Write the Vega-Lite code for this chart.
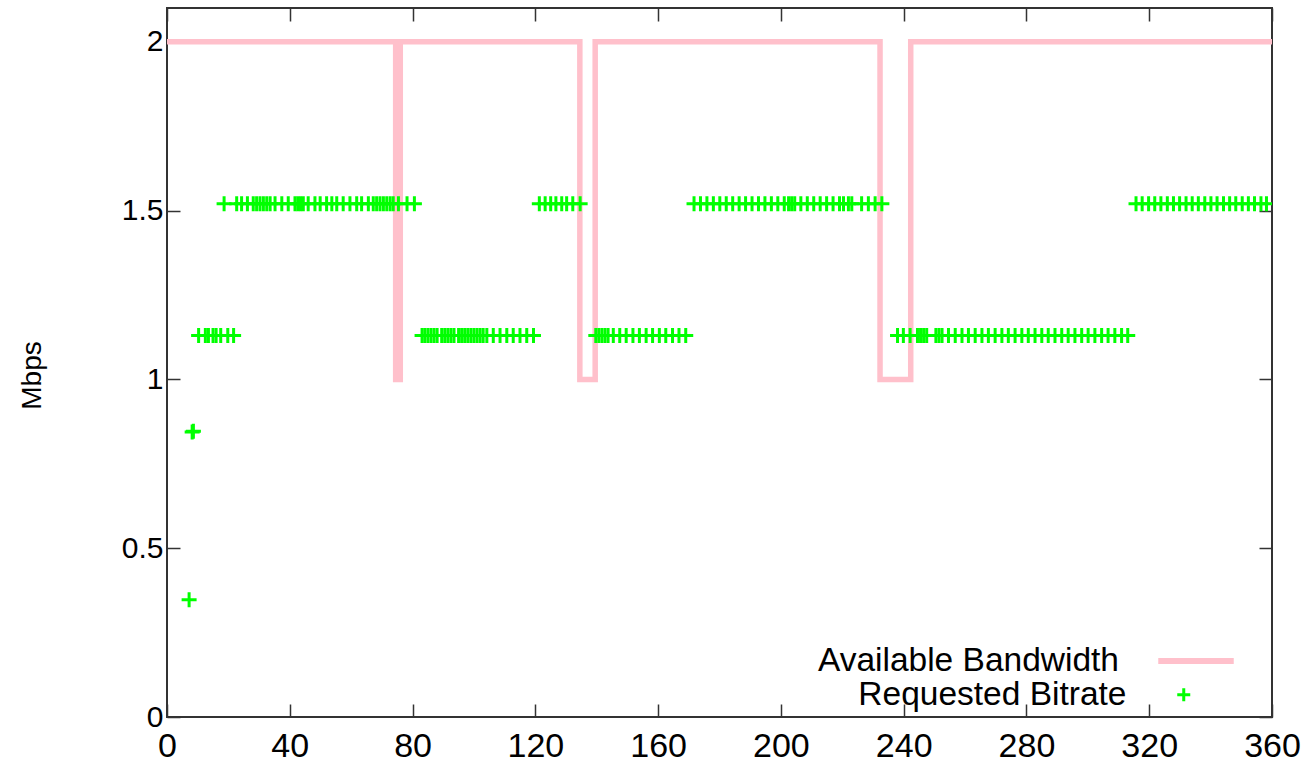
{
  "$schema": "https://vega.github.io/schema/vega-lite/v6.json",
  "width": 1105,
  "height": 709,
  "autosize": {"type": "none"},
  "padding": {"left": 167, "top": 8, "right": 39, "bottom": 45},
  "background": "white",
  "config": {
    "font": "Liberation Sans",
    "view": {"stroke": "#333333", "strokeWidth": 2},
    "axis": {
      "grid": false,
      "domain": false,
      "tickColor": "#333333",
      "tickWidth": 1.5,
      "tickSize": -13,
      "labelFlush": false,
      "labelOverlap": false,
      "labelFont": "Liberation Sans",
      "labelFontSize": 30,
      "labelColor": "#000000",
      "titleFont": "Liberation Sans",
      "titleFontSize": 28,
      "titleFontWeight": "normal",
      "titleColor": "#000000"
    },
    "legend": {
      "padding": 0,
      "labelFont": "Liberation Sans",
      "labelFontSize": 33.5,
      "labelColor": "#000000",
      "labelLimit": 0,
      "labelAlign": "right"
    }
  },
  "datasets": {
    "bandwidth": [
      {"t": 0, "mbps": 2, "series": "Available Bandwidth"},
      {"t": 74.5, "mbps": 1, "series": "Available Bandwidth"},
      {"t": 76, "mbps": 2, "series": "Available Bandwidth"},
      {"t": 134.5, "mbps": 1, "series": "Available Bandwidth"},
      {"t": 139.5, "mbps": 2, "series": "Available Bandwidth"},
      {"t": 232.3, "mbps": 1, "series": "Available Bandwidth"},
      {"t": 242.3, "mbps": 2, "series": "Available Bandwidth"},
      {"t": 360, "mbps": 2, "series": "Available Bandwidth"}
    ],
    "bitrate": [
      {"t": 7.2, "mbps": 0.347}, {"t": 8.2, "mbps": 0.844}, {"t": 8.6, "mbps": 0.846},
      {"t": 10.3, "mbps": 1.13}, {"t": 12.5, "mbps": 1.13}, {"t": 13.5, "mbps": 1.13}, {"t": 15, "mbps": 1.13},
      {"t": 16, "mbps": 1.13}, {"t": 17.5, "mbps": 1.13}, {"t": 19.8, "mbps": 1.13}, {"t": 21.7, "mbps": 1.13},
      {"t": 18.6, "mbps": 1.52}, {"t": 22.7, "mbps": 1.52}, {"t": 24.3, "mbps": 1.52}, {"t": 26.2, "mbps": 1.52},
      {"t": 28.1, "mbps": 1.52}, {"t": 29.2, "mbps": 1.52}, {"t": 30.3, "mbps": 1.52}, {"t": 31.4, "mbps": 1.52},
      {"t": 32.5, "mbps": 1.52}, {"t": 33.6, "mbps": 1.52}, {"t": 35.2, "mbps": 1.52}, {"t": 37.4, "mbps": 1.52},
      {"t": 39.5, "mbps": 1.52}, {"t": 41.7, "mbps": 1.52}, {"t": 42.6, "mbps": 1.52}, {"t": 43.5, "mbps": 1.52},
      {"t": 44.4, "mbps": 1.52}, {"t": 46, "mbps": 1.52}, {"t": 48.2, "mbps": 1.52}, {"t": 49.9, "mbps": 1.52},
      {"t": 52, "mbps": 1.52}, {"t": 53.7, "mbps": 1.52}, {"t": 55.3, "mbps": 1.52}, {"t": 57.4, "mbps": 1.52},
      {"t": 59.6, "mbps": 1.52}, {"t": 61.8, "mbps": 1.52}, {"t": 63.4, "mbps": 1.52}, {"t": 65.6, "mbps": 1.52},
      {"t": 67.2, "mbps": 1.52}, {"t": 68.3, "mbps": 1.52}, {"t": 69.4, "mbps": 1.52}, {"t": 70.5, "mbps": 1.52},
      {"t": 71.6, "mbps": 1.52}, {"t": 72.7, "mbps": 1.52}, {"t": 73.7, "mbps": 1.52}, {"t": 75.4, "mbps": 1.52},
      {"t": 78.2, "mbps": 1.52}, {"t": 80.6, "mbps": 1.52},
      {"t": 83.1, "mbps": 1.13}, {"t": 84, "mbps": 1.13}, {"t": 85, "mbps": 1.13}, {"t": 86, "mbps": 1.13},
      {"t": 87, "mbps": 1.13}, {"t": 88, "mbps": 1.13}, {"t": 89.5, "mbps": 1.13}, {"t": 90.5, "mbps": 1.13},
      {"t": 91.5, "mbps": 1.13}, {"t": 92.5, "mbps": 1.13}, {"t": 93.5, "mbps": 1.13}, {"t": 95, "mbps": 1.13},
      {"t": 96, "mbps": 1.13}, {"t": 97, "mbps": 1.13}, {"t": 98, "mbps": 1.13}, {"t": 99, "mbps": 1.13},
      {"t": 100, "mbps": 1.13}, {"t": 101, "mbps": 1.13}, {"t": 102, "mbps": 1.13}, {"t": 103, "mbps": 1.13},
      {"t": 104.2, "mbps": 1.13}, {"t": 106.3, "mbps": 1.13}, {"t": 108.5, "mbps": 1.13}, {"t": 110.7, "mbps": 1.13},
      {"t": 112.8, "mbps": 1.13}, {"t": 115, "mbps": 1.13}, {"t": 117.2, "mbps": 1.13}, {"t": 119.4, "mbps": 1.13},
      {"t": 121.3, "mbps": 1.52}, {"t": 123.2, "mbps": 1.52}, {"t": 125, "mbps": 1.52}, {"t": 126.7, "mbps": 1.52},
      {"t": 128.6, "mbps": 1.52}, {"t": 130.2, "mbps": 1.52}, {"t": 132.2, "mbps": 1.52}, {"t": 134.6, "mbps": 1.52},
      {"t": 139.7, "mbps": 1.13}, {"t": 140.7, "mbps": 1.13}, {"t": 141.7, "mbps": 1.13}, {"t": 142.7, "mbps": 1.13},
      {"t": 143.7, "mbps": 1.13}, {"t": 145.4, "mbps": 1.13}, {"t": 147.5, "mbps": 1.13}, {"t": 149.6, "mbps": 1.13},
      {"t": 151.8, "mbps": 1.13}, {"t": 153.9, "mbps": 1.13}, {"t": 156.1, "mbps": 1.13}, {"t": 158.2, "mbps": 1.13},
      {"t": 160.4, "mbps": 1.13}, {"t": 162.5, "mbps": 1.13}, {"t": 164.7, "mbps": 1.13}, {"t": 166.8, "mbps": 1.13},
      {"t": 169, "mbps": 1.13},
      {"t": 171.7, "mbps": 1.52}, {"t": 173.8, "mbps": 1.52}, {"t": 175.9, "mbps": 1.52}, {"t": 178, "mbps": 1.52},
      {"t": 180.1, "mbps": 1.52}, {"t": 182.2, "mbps": 1.52}, {"t": 184.3, "mbps": 1.52}, {"t": 186.4, "mbps": 1.52},
      {"t": 188.5, "mbps": 1.52}, {"t": 190.6, "mbps": 1.52}, {"t": 192.7, "mbps": 1.52}, {"t": 194.8, "mbps": 1.52},
      {"t": 196.9, "mbps": 1.52}, {"t": 199, "mbps": 1.52}, {"t": 201.1, "mbps": 1.52}, {"t": 202.5, "mbps": 1.52},
      {"t": 203.5, "mbps": 1.52}, {"t": 204.5, "mbps": 1.52}, {"t": 206.5, "mbps": 1.52}, {"t": 208.6, "mbps": 1.52},
      {"t": 210.7, "mbps": 1.52}, {"t": 212.8, "mbps": 1.52}, {"t": 214.9, "mbps": 1.52}, {"t": 217, "mbps": 1.52},
      {"t": 219.1, "mbps": 1.52}, {"t": 220.4, "mbps": 1.52}, {"t": 222, "mbps": 1.52}, {"t": 223.1, "mbps": 1.52},
      {"t": 226.3, "mbps": 1.52}, {"t": 228.5, "mbps": 1.52}, {"t": 230.7, "mbps": 1.52}, {"t": 232.9, "mbps": 1.52},
      {"t": 238, "mbps": 1.13}, {"t": 239.9, "mbps": 1.13}, {"t": 242.1, "mbps": 1.13}, {"t": 244.5, "mbps": 1.13},
      {"t": 245.5, "mbps": 1.13}, {"t": 246.5, "mbps": 1.13}, {"t": 247.5, "mbps": 1.13}, {"t": 250.5, "mbps": 1.13},
      {"t": 251.5, "mbps": 1.13}, {"t": 252.5, "mbps": 1.13}, {"t": 254.6, "mbps": 1.13}, {"t": 256.8, "mbps": 1.13},
      {"t": 259, "mbps": 1.13}, {"t": 261.1, "mbps": 1.13}, {"t": 263.3, "mbps": 1.13}, {"t": 265.5, "mbps": 1.13},
      {"t": 267.6, "mbps": 1.13}, {"t": 269.8, "mbps": 1.13}, {"t": 272, "mbps": 1.13}, {"t": 274.1, "mbps": 1.13},
      {"t": 276.3, "mbps": 1.13}, {"t": 278.5, "mbps": 1.13}, {"t": 280.6, "mbps": 1.13}, {"t": 282.8, "mbps": 1.13},
      {"t": 285, "mbps": 1.13}, {"t": 287.1, "mbps": 1.13}, {"t": 289.3, "mbps": 1.13}, {"t": 291.5, "mbps": 1.13},
      {"t": 293.6, "mbps": 1.13}, {"t": 295.8, "mbps": 1.13}, {"t": 298, "mbps": 1.13}, {"t": 300.1, "mbps": 1.13},
      {"t": 302.3, "mbps": 1.13}, {"t": 304.5, "mbps": 1.13}, {"t": 306.6, "mbps": 1.13}, {"t": 308.8, "mbps": 1.13},
      {"t": 311, "mbps": 1.13}, {"t": 313, "mbps": 1.13},
      {"t": 315.7, "mbps": 1.52}, {"t": 317.7, "mbps": 1.52}, {"t": 319.8, "mbps": 1.52}, {"t": 321.8, "mbps": 1.52},
      {"t": 323.8, "mbps": 1.52}, {"t": 325.9, "mbps": 1.52}, {"t": 327.9, "mbps": 1.52}, {"t": 329.9, "mbps": 1.52},
      {"t": 332, "mbps": 1.52}, {"t": 334, "mbps": 1.52}, {"t": 336, "mbps": 1.52}, {"t": 338.1, "mbps": 1.52},
      {"t": 340.1, "mbps": 1.52}, {"t": 342.1, "mbps": 1.52}, {"t": 344.2, "mbps": 1.52}, {"t": 346.2, "mbps": 1.52},
      {"t": 348.2, "mbps": 1.52}, {"t": 350.3, "mbps": 1.52}, {"t": 352.3, "mbps": 1.52}, {"t": 354.3, "mbps": 1.52},
      {"t": 356.4, "mbps": 1.52}, {"t": 358.2, "mbps": 1.52}
    ]
  },
  "resolve": {"axis": {"x": "independent", "y": "independent"}},
  "layer": [
    {
      "data": {"name": "bandwidth"},
      "mark": {"type": "line", "interpolate": "step-after", "strokeWidth": 5.5, "strokeJoin": "miter", "clip": true},
      "encoding": {
        "x": {
          "field": "t", "type": "quantitative",
          "scale": {"domain": [0, 360], "nice": false, "zero": false},
          "axis": {"orient": "bottom", "values": [0, 40, 80, 120, 160, 200, 240, 280, 320, 360], "title": null, "labelPadding": 25, "labelFontSize": 34}
        },
        "y": {
          "field": "mbps", "type": "quantitative",
          "scale": {"domain": [0, 2.1], "nice": false},
          "axis": {
            "orient": "left", "values": [0, 0.5, 1, 1.5, 2], "format": "~g", "labelPadding": 17,
            "title": "Mbps", "titleAngle": -90, "titleX": -135, "titleY": 367,
            "titleAlign": "center", "titleBaseline": "middle"
          }
        },
        "color": {
          "field": "series", "type": "nominal",
          "scale": {"range": ["#ffc0cb"]},
          "legend": {
            "title": null, "orient": "none", "legendX": 988, "legendY": 612,
            "symbolType": "stroke", "symbolStrokeWidth": 6, "symbolSize": 5700,
            "labelOffset": -118
          }
        }
      }
    },
    {
      "data": {"name": "bitrate"},
      "transform": [{"calculate": "'Requested Bitrate'", "as": "series"}],
      "mark": {"type": "point", "filled": false, "stroke": "#00ff00", "strokeWidth": 3, "size": 225, "opacity": 1, "clip": true},
      "encoding": {
        "x": {
          "field": "t", "type": "quantitative",
          "axis": {"orient": "top", "values": [0, 40, 80, 120, 160, 200, 240, 280, 320, 360], "labels": false, "title": null}
        },
        "y": {
          "field": "mbps", "type": "quantitative",
          "axis": {"orient": "right", "values": [0, 0.5, 1, 1.5, 2], "labels": false, "title": null}
        },
        "shape": {
          "field": "series", "type": "nominal",
          "scale": {"range": ["M-1,0H1M0,-1V1"]},
          "legend": {
            "title": null, "orient": "none", "legendX": 1000, "legendY": 670,
            "symbolSize": 169, "symbolStrokeColor": "#00ff00", "symbolStrokeWidth": 3,
            "symbolFillColor": "transparent", "labelOffset": -74
          }
        }
      }
    }
  ]
}
